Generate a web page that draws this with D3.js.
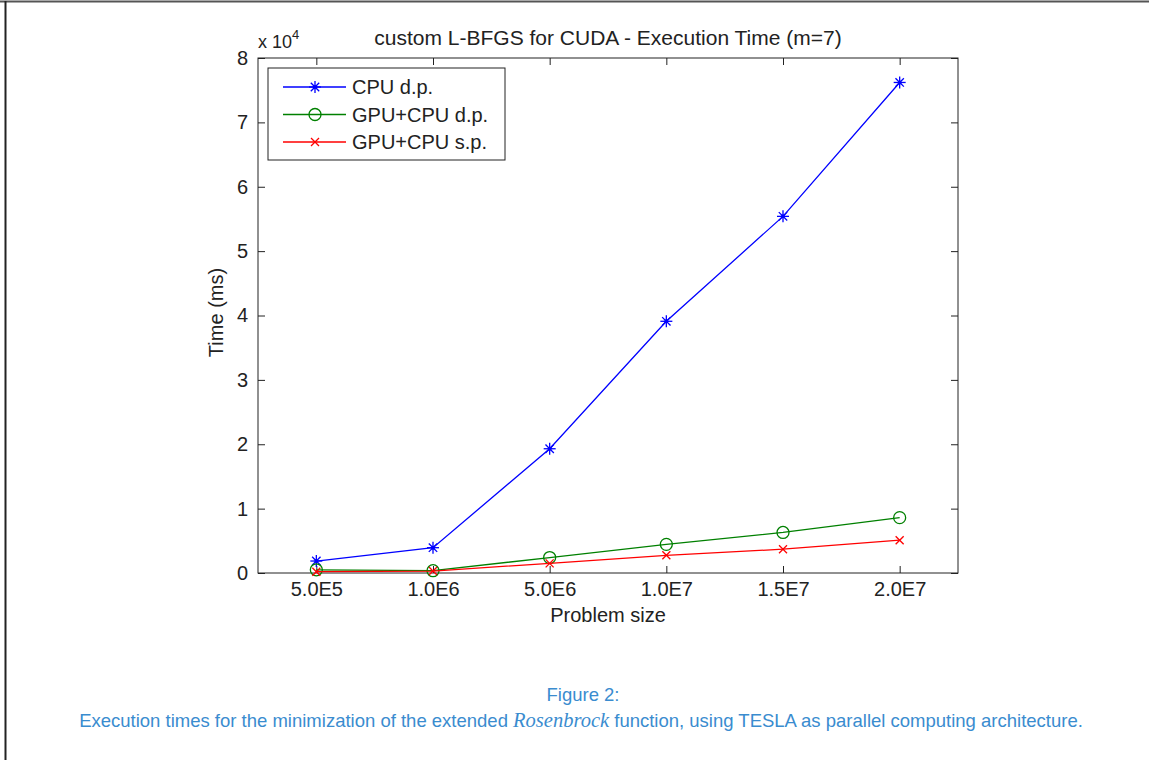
<!DOCTYPE html>
<html>
<head>
<meta charset="utf-8">
<script src="https://cdn.jsdelivr.net/npm/d3@7"></script>
<style>
  body { margin: 0; background: #fff; }
  svg text { font-family: "Liberation Sans", Arial, sans-serif; fill: #222; }
  .caption { fill: #3a8ccf !important; }
</style>
</head>
<body>
<div id="chart"></div>
<script>
// Problem sizes (categorical x axis)
const categories = ["5.0E5", "1.0E6", "5.0E6", "1.0E7", "1.5E7", "2.0E7"];

// Execution times in ms
const cpuDp = [1860, 3930, 19300, 39100, 55400, 76200];
const gpuDp = [500, 360, 2400, 4450, 6300, 8600];
const gpuSp = [200, 300, 1500, 2750, 3700, 5100];

const yTicks = [0, 1, 2, 3, 4, 5, 6, 7, 8];

const series = [
  { name: "CPU d.p.", values: cpuDp, color: "#0000ff", marker: "star" },
  { name: "GPU+CPU d.p.", values: gpuDp, color: "#008000", marker: "circle" },
  { name: "GPU+CPU s.p.", values: gpuSp, color: "#ff0000", marker: "cross" }
];

const W = 1149, H = 760;
const margin = { top: 58, right: 191, bottom: 187, left: 258 };
const width = W - margin.left - margin.right;
const height = H - margin.top - margin.bottom;
const fs = 20;

const svg = d3.select("#chart").append("svg")
  .attr("width", W)
  .attr("height", H);

// page frame
svg.append("line").attr("x1", 0).attr("x2", W).attr("y1", 1.5).attr("y2", 1.5)
  .attr("stroke", "#555").attr("stroke-width", 2);
svg.append("line").attr("x1", 5.5).attr("x2", 5.5).attr("y1", 1).attr("y2", H)
  .attr("stroke", "#222").attr("stroke-width", 2);

const g = svg.append("g").attr("transform", `translate(${margin.left},${margin.top})`);

// MATLAB-like x limits [0.5, 6.5]
const x = d3.scaleLinear().domain([0.5, categories.length + 0.5]).range([0, width]);
const y = d3.scaleLinear().domain([0, 80000]).range([height, 0]);

// axes box
g.append("rect").attr("width", width).attr("height", height)
  .attr("fill", "none").attr("stroke", "#222").attr("stroke-width", 1);

const tickLen = 7;
const xIdx = categories.map((c, i) => i + 1);

// bottom axis
const xAxis = d3.axisBottom(x).tickValues(xIdx)
  .tickFormat(d => categories[d - 1]).tickSizeInner(-tickLen).tickSizeOuter(0).tickPadding(tickLen + 2);
const gx = g.append("g").attr("transform", `translate(0,${height})`).call(xAxis);
// top ticks
const gxt = g.append("g").call(d3.axisTop(x).tickValues(xIdx).tickFormat("").tickSizeInner(-tickLen).tickSizeOuter(0));

// left axis
const yAxis = d3.axisLeft(y).tickValues(yTicks.map(t => t * 10000))
  .tickFormat(d => d / 10000).tickSizeInner(-tickLen).tickSizeOuter(0).tickPadding(tickLen + 3);
const gy = g.append("g").call(yAxis);
const gyr = g.append("g").attr("transform", `translate(${width},0)`)
  .call(d3.axisRight(y).tickValues(yTicks.map(t => t * 10000)).tickFormat("").tickSizeInner(-tickLen).tickSizeOuter(0));

[gx, gxt, gy, gyr].forEach(a => {
  a.attr("font-size", null).attr("font-family", null);
  a.select(".domain").remove();
  a.selectAll(".tick line").attr("stroke", "#222");
  a.selectAll("text").style("font-size", fs + "px").attr("fill", "#222");
});

// exponent label
const expo = g.append("text").attr("x", 0).attr("y", -10).style("font-size", "18px");
expo.append("tspan").text("x 10");
expo.append("tspan").attr("dy", -9).style("font-size", "13px").text("4");

// title
g.append("text").attr("x", width / 2).attr("y", -13).attr("text-anchor", "middle")
  .style("font-size", "21px").text("custom L-BFGS for CUDA - Execution Time (m=7)");

// axis labels
g.append("text").attr("x", width / 2).attr("y", height + 49).attr("text-anchor", "middle")
  .style("font-size", fs + "px").text("Problem size");
g.append("text").attr("transform", `translate(${-35},${height / 2 - 3}) rotate(-90)`)
  .attr("text-anchor", "middle").style("font-size", fs + "px").text("Time (ms)");

// marker drawing
function drawMarker(sel, type, color) {
  if (type === "star") {
    const r = 6;
    [[0, -r, 0, r], [-r, 0, r, 0], [-r * 0.7, -r * 0.7, r * 0.7, r * 0.7], [-r * 0.7, r * 0.7, r * 0.7, -r * 0.7]].forEach(s => {
      sel.append("line").attr("x1", s[0]).attr("y1", s[1]).attr("x2", s[2]).attr("y2", s[3])
        .attr("stroke", color).attr("stroke-width", 1.3);
    });
    sel.append("circle").attr("r", 2).attr("fill", color);
  } else if (type === "circle") {
    sel.append("circle").attr("r", 6).attr("fill", "none").attr("stroke", color).attr("stroke-width", 1.3);
  } else {
    const r = 4;
    [[-r, -r, r, r], [-r, r, r, -r]].forEach(s => {
      sel.append("line").attr("x1", s[0]).attr("y1", s[1]).attr("x2", s[2]).attr("y2", s[3])
        .attr("stroke", color).attr("stroke-width", 1.3);
    });
  }
}

const line = d3.line().x((d, i) => x(i + 1)).y(d => y(d));

series.forEach(s => {
  g.append("path").datum(s.values).attr("d", line)
    .attr("fill", "none").attr("stroke", s.color).attr("stroke-width", 1.3);
  s.values.forEach((v, i) => {
    const m = g.append("g").attr("transform", `translate(${x(i + 1)},${y(v)})`);
    drawMarker(m, s.marker, s.color);
  });
});

// legend
const lg = g.append("g").attr("transform", "translate(10,10)");
lg.append("rect").attr("width", 237).attr("height", 92)
  .attr("fill", "#fff").attr("stroke", "#222").attr("stroke-width", 1);
series.forEach((s, i) => {
  const ly = 19 + i * 27.5;
  lg.append("line").attr("x1", 15).attr("x2", 78).attr("y1", ly).attr("y2", ly)
    .attr("stroke", s.color).attr("stroke-width", 1.3);
  drawMarker(lg.append("g").attr("transform", `translate(47,${ly})`), s.marker, s.color);
  lg.append("text").attr("x", 84).attr("y", ly).attr("dy", "0.35em")
    .style("font-size", fs + "px").text(s.name);
});

// caption
const cap = svg.append("g");
cap.append("text").attr("class", "caption").attr("x", 583).attr("y", 701)
  .attr("text-anchor", "middle").style("font-size", "18.5px").text("Figure 2:");
const c2 = cap.append("text").attr("class", "caption").attr("x", 581).attr("y", 727)
  .attr("text-anchor", "middle").style("font-size", "18.5px");
c2.append("tspan").text("Execution times for the minimization of the extended ");
c2.append("tspan").attr("font-family", "'Liberation Serif', 'DejaVu Serif', serif")
  .attr("font-style", "italic").style("font-size", "20.5px").text("Rosenbrock");
c2.append("tspan").text(" function, using TESLA as parallel computing architecture.");
</script>
</body>
</html>
